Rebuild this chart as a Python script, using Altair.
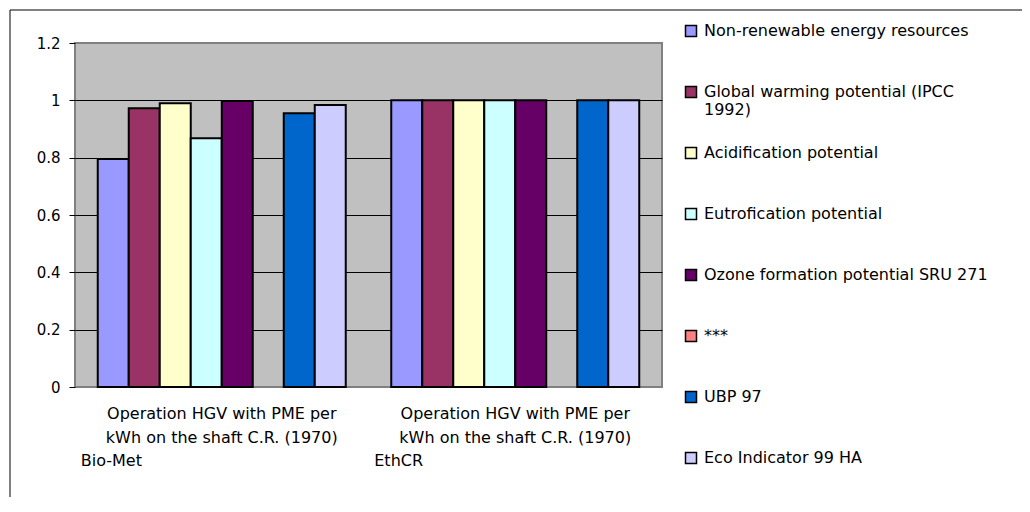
import altair as alt
import pandas as pd

category_top = [
    "Operation HGV with PME per\nkWh on the shaft C.R. (1970)",
    "Operation HGV with PME per\nkWh on the shaft C.R. (1970)",
]
category_suffix = ["Bio-Met", "EthCR"]
categories = [t + "\n" + s for t, s in zip(category_top, category_suffix)]
series = [
    "Non-renewable energy resources",
    "Global warming potential (IPCC 1992)",
    "Acidification potential",
    "Eutrofication potential",
    "Ozone formation potential SRU 271",
    "***",
    "UBP 97",
    "Eco Indicator 99  HA",
]
colors = ["#9999FF", "#993366", "#FFFFCC", "#CCFFFF", "#660066", "#FF8080", "#0066CC", "#CCCCFF"]
values_biomet = [0.795, 0.972, 0.99, 0.868, 0.998, None, 0.955, 0.984]
values_ethcr = [1.0, 1.0, 1.0, 1.0, 1.0, None, 1.0, 1.0]
y_ticks = [0, 0.2, 0.4, 0.6, 0.8, 1, 1.2]

rows = []
for cat, vals in zip(categories, [values_biomet, values_ethcr]):
    for s, v in zip(series, vals):
        if v is not None:
            rows.append({"category": cat, "series": s, "value": v})
df = pd.DataFrame(rows)
df_labels = pd.DataFrame({"category": categories, "top": category_top, "suffix": category_suffix})

FONT = "DejaVu Sans"

legend_label_expr = (
    "datum.label == 'Global warming potential (IPCC 1992)' ? "
    "['Global warming potential (IPCC', '1992)'] : datum.label"
)

x_enc = alt.X(
    "category:N",
    sort=categories,
    title=None,
    scale=alt.Scale(domain=categories, paddingInner=0.155, paddingOuter=0.0775),
    axis=None,
)

bars = alt.Chart(df).mark_bar(stroke="black", strokeWidth=2).encode(
    x=x_enc,
    xOffset=alt.XOffset("series:N", sort=series, scale=alt.Scale(domain=series)),
    y=alt.Y(
        "value:Q",
        title=None,
        scale=alt.Scale(domain=[0, 1.2], nice=False),
        axis=alt.Axis(
            values=y_ticks,
            format="~g",
            domain=False,
            tickColor="black",
            tickSize=6,
            labelPadding=9,
            labelFont=FONT,
            labelFontSize=15,
            labelColor="black",
            grid=True,
            gridColor={
                "condition": {"test": "datum.value === 0 || datum.value === 1.2", "value": "#808080"},
                "value": "black",
            },
            gridWidth=1,
        ),
    ),
    color=alt.Color(
        "series:N",
        sort=series,
        scale=alt.Scale(domain=series, range=colors),
        legend=alt.Legend(
            title=None,
            orient="none",
            legendX=608,
            legendY=-20,
            symbolType="square",
            symbolSize=121,
            symbolStrokeColor="black",
            symbolStrokeWidth=1.5,
            symbolOpacity=1,
            labelFont=FONT,
            labelFontSize=16,
            labelColor="black",
            labelLimit=400,
            labelOffset=5,
            labelExpr=legend_label_expr,
            gridAlign="all",
            rowPadding=26,
        ),
    ),
)

label_top = alt.Chart(df_labels).mark_text(
    lineBreak="\n", align="center", baseline="middle", font=FONT, fontSize=16,
    color="black", lineHeight=23.5
).encode(x=x_enc, y=alt.value(371), text="top:N")

label_suffix = alt.Chart(df_labels).mark_text(
    align="left", baseline="middle", font=FONT, fontSize=16, color="black", dx=-141
).encode(x=x_enc, y=alt.value(418), text="suffix:N")

frame = alt.Chart(pd.DataFrame({"f": [0]})).mark_rect(
    fill="transparent", stroke="black", strokeWidth=1
).encode(
    x=alt.value(-65), x2=alt.value(2000), y=alt.value(-33), y2=alt.value(2000)
)

chart = alt.layer(frame, bars, label_top, label_suffix).properties(
    width=587,
    height=344,
    autosize=alt.AutoSizeParams(type="none"),
    padding={"left": 67, "top": 35, "right": 360, "bottom": 110},
    background="white",
).configure_view(
    fill="#C0C0C0", stroke="#808080", strokeWidth=2
)

chart.save("out.html", embed_options={"renderer": "svg", "actions": False})
